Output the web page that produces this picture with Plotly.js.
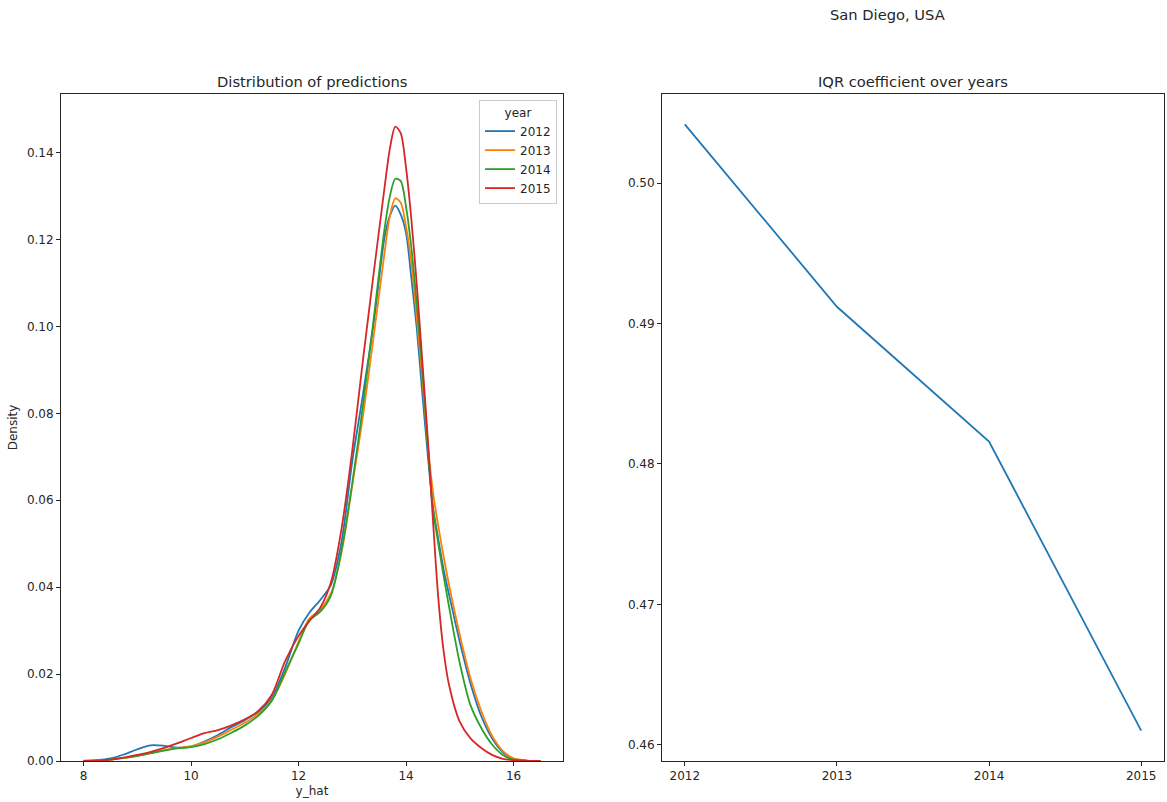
<!DOCTYPE html>
<html>
<head>
<meta charset="utf-8">
<script src="https://cdn.plot.ly/plotly-3.0.1.min.js"></script>
<style>
  html, body { margin: 0; padding: 0; background: #fff; }
  #chart { width: 1167px; height: 802px; }
</style>
</head>
<body>
<div id="chart"></div>
<script>
// ---- data ----
const yHat = [8.0, 8.25, 8.5, 8.75, 9.0, 9.25, 9.5, 9.75, 10.0, 10.25, 10.5, 10.75, 11.0, 11.25, 11.5, 11.75,
  12.0, 12.2, 12.4, 12.6, 12.8, 13.0, 13.2, 13.4, 13.6, 13.7, 13.8, 13.9, 14.0, 14.1, 14.2, 14.3, 14.4, 14.5,
  14.6, 14.7, 14.8, 15.0, 15.2, 15.4, 15.6, 15.8, 16.0, 16.25, 16.5];

const density2012 = [0.0001, 0.0002, 0.0006, 0.0015, 0.0027, 0.0036, 0.0035, 0.0031, 0.0033, 0.0045, 0.0060, 0.0078,
  0.0094, 0.0113, 0.0145, 0.0215, 0.0300, 0.0341, 0.0370, 0.0405, 0.0505, 0.0690, 0.0845, 0.1010, 0.1205, 0.1255,
  0.1278, 0.1258, 0.1215, 0.1110, 0.0995, 0.0850, 0.0710, 0.0585, 0.0510, 0.0440, 0.0383, 0.0274, 0.0178, 0.0103,
  0.0052, 0.0020, 0.0005, 0.0001, 0.0];

const density2013 = [0.00005, 0.0001, 0.0003, 0.0007, 0.0012, 0.0018, 0.0025, 0.0030, 0.0034, 0.0043, 0.0056, 0.0072,
  0.0088, 0.0108, 0.0140, 0.0200, 0.0275, 0.0328, 0.0348, 0.0385, 0.0480, 0.0635, 0.0795, 0.0980, 0.1170, 0.1255,
  0.1295, 0.1285, 0.1230, 0.1145, 0.1020, 0.0885, 0.0735, 0.0620, 0.0540, 0.0470, 0.0405, 0.0290, 0.0190, 0.0115,
  0.0058, 0.0023, 0.0006, 0.0001, 0.0];

const density2014 = [0.00005, 0.0001, 0.0003, 0.0007, 0.0012, 0.0018, 0.0024, 0.0029, 0.0032, 0.0039, 0.0050, 0.0065,
  0.0082, 0.0104, 0.0138, 0.0205, 0.0270, 0.0324, 0.0343, 0.0380, 0.0485, 0.0640, 0.0820, 0.1020, 0.1225, 0.1300,
  0.1340, 0.1335, 0.1275, 0.1180, 0.1050, 0.0905, 0.0735, 0.0580, 0.0500, 0.0425, 0.0355, 0.0225, 0.0128, 0.0076,
  0.0038, 0.0014, 0.0003, 0.00005, 0.0];

const density2015 = [0.00005, 0.0001, 0.0003, 0.0008, 0.0014, 0.0021, 0.0030, 0.0041, 0.0053, 0.0064, 0.0071, 0.0082,
  0.0096, 0.0115, 0.0152, 0.0230, 0.0288, 0.0322, 0.0352, 0.0410, 0.0535, 0.0715, 0.0925, 0.1125, 0.1320, 0.1410,
  0.1460, 0.1445, 0.1365, 0.1245, 0.1095, 0.0925, 0.0750, 0.0555, 0.0375, 0.0252, 0.0175, 0.0090, 0.0052, 0.0030,
  0.0014, 0.0005, 0.0002, 0.00005, 0.0];

const years = [2012, 2013, 2014, 2015];
const yearLabels = ['2012', '2013', '2014', '2015'];
const iqrCoef = [0.5042, 0.4912, 0.4816, 0.4610];

const densityTicks = [0, 0.02, 0.04, 0.06, 0.08, 0.10, 0.12, 0.14];
const yHatTicks = [8, 10, 12, 14, 16];
const iqrTicks = [0.46, 0.47, 0.48, 0.49, 0.50];

// ---- styling ----
const colors = ['#1f77b4', '#ff7f0e', '#2ca02c', '#d62728'];
const densities = [density2012, density2013, density2014, density2015];
const FONT = 'DejaVu Sans, Arial, sans-serif';
const INK = '#262626';

const traces = densities.map((d, i) => ({
  type: 'scatter', mode: 'lines', x: yHat, y: d, name: yearLabels[i],
  line: { color: colors[i], width: 1.8, shape: 'spline', smoothing: 0.8 },
  xaxis: 'x', yaxis: 'y', showlegend: true
}));

traces.push({
  type: 'scatter', mode: 'lines', x: years, y: iqrCoef, name: 'IQR',
  line: { color: '#1f77b4', width: 1.8 }, xaxis: 'x2', yaxis: 'y2', showlegend: false
});

const W = 1167, H = 802;
const px = v => v / W, py = v => 1 - v / H;

const axisCommon = {
  showline: true, mirror: true, linecolor: INK, linewidth: 1,
  ticks: 'outside', ticklen: 4, tickwidth: 1, tickcolor: INK,
  showgrid: false, zeroline: false, automargin: false,
  tickfont: { family: FONT, size: 12, color: INK }
};

const layout = {
  width: W, height: H,
  margin: { l: 0, r: 0, t: 0, b: 0 },
  paper_bgcolor: '#fff', plot_bgcolor: '#fff',
  font: { family: FONT, color: INK },
  showlegend: true,
  xaxis: Object.assign({}, axisCommon, {
    domain: [px(61), px(563)], range: [7.58, 16.92],
    tickvals: yHatTicks, ticktext: yHatTicks.map(String),
    title: { text: 'y_hat', font: { family: FONT, size: 12, color: INK }, standoff: 4 },
    anchor: 'y'
  }),
  yaxis: Object.assign({}, axisCommon, {
    domain: [py(761), py(94)], range: [0, 0.1535],
    tickvals: densityTicks, ticktext: densityTicks.map(v => v.toFixed(2)),
    title: { text: 'Density', font: { family: FONT, size: 12, color: INK }, standoff: 6 },
    anchor: 'x'
  }),
  xaxis2: Object.assign({}, axisCommon, {
    domain: [px(662), px(1164)], range: [2011.85, 2015.15],
    tickvals: years, ticktext: yearLabels,
    anchor: 'y2'
  }),
  yaxis2: Object.assign({}, axisCommon, {
    domain: [py(761), py(94)], range: [0.45884, 0.50636],
    tickvals: iqrTicks, ticktext: iqrTicks.map(v => v.toFixed(2)),
    anchor: 'x2'
  }),
  legend: {
    x: px(557), y: py(100), xanchor: 'right', yanchor: 'top',
    bgcolor: 'rgba(255,255,255,0.85)', bordercolor: '#cccccc', borderwidth: 1,
    font: { family: FONT, size: 12, color: INK },
    title: { text: 'year', side: 'top center', font: { family: FONT, size: 12, color: INK } },
    itemwidth: 30, tracegroupgap: 0
  },
  annotations: [
    { text: 'San Diego, USA', xref: 'paper', yref: 'paper', x: px(887), y: py(14),
      xanchor: 'center', yanchor: 'middle', showarrow: false,
      font: { family: FONT, size: 14.7, color: INK } },
    { text: 'Distribution of predictions', xref: 'paper', yref: 'paper', x: px(312), y: py(82),
      xanchor: 'center', yanchor: 'middle', showarrow: false,
      font: { family: FONT, size: 14.7, color: INK } },
    { text: 'IQR coefficient over years', xref: 'paper', yref: 'paper', x: px(913), y: py(82),
      xanchor: 'center', yanchor: 'middle', showarrow: false,
      font: { family: FONT, size: 14.7, color: INK } }
  ]
};

Plotly.newPlot('chart', traces, layout, { displayModeBar: false, responsive: false });
</script>
</body>
</html>
